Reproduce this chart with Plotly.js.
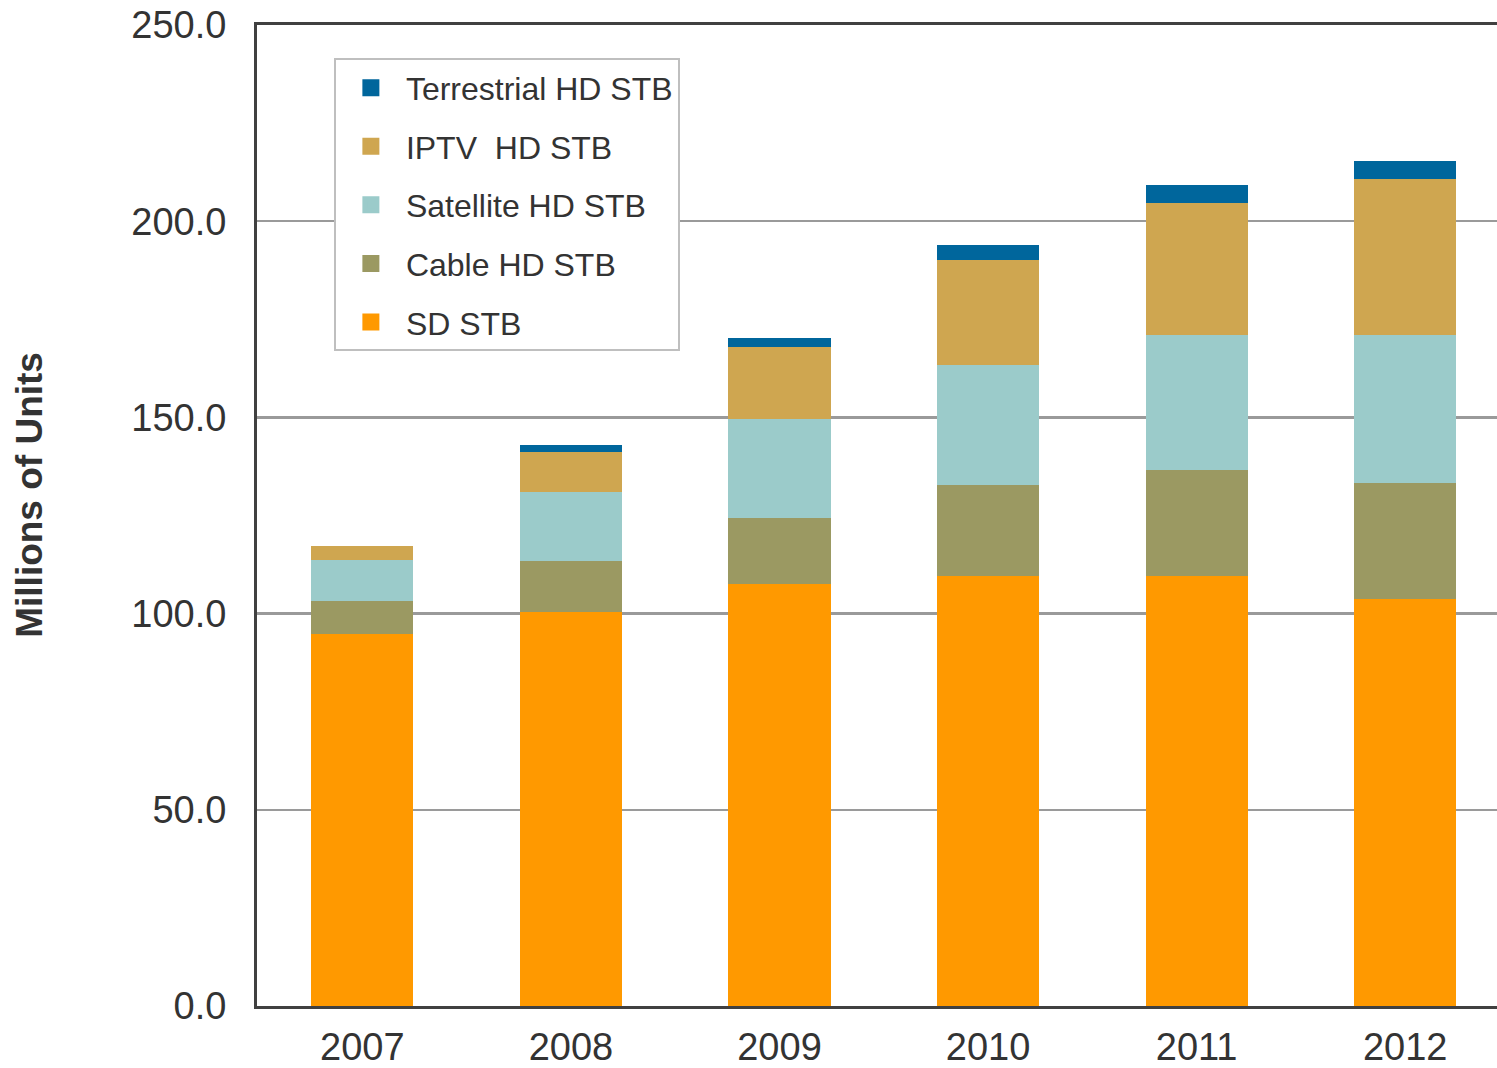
<!DOCTYPE html>
<html>
<head>
<meta charset="utf-8">
<script src="https://cdn.plot.ly/plotly-3.0.1.min.js"></script>
<style>
html,body{margin:0;padding:0;background:#fff;}
#chart{width:1497px;height:1068px;}
</style>
</head>
<body>
<div id="chart"></div>
<script>
// Data (millions of units)
var years = ['2007', '2008', '2009', '2010', '2011', '2012'];
var sdSTB = [94.7, 100.5, 107.5, 109.7, 109.7, 103.6];
var cableHD = [8.4, 13.0, 16.8, 23.0, 26.8, 29.8];
var satelliteHD = [10.5, 17.6, 25.2, 30.6, 34.4, 37.5];
var iptvHD = [3.7, 10.0, 18.4, 26.8, 33.7, 39.8];
var terrestrialHD = [0.0, 1.8, 2.3, 3.8, 4.6, 4.6];
var seriesNames = ['SD STB', 'Cable HD STB', 'Satellite HD STB', 'IPTV  HD STB', 'Terrestrial HD STB'];
var seriesColors = ['#FF9900', '#9B9962', '#9BCBCA', '#CFA650', '#00669C'];
var yTicks = [0, 50, 100, 150, 200, 250];

var seriesValues = [sdSTB, cableHD, satelliteHD, iptvHD, terrestrialHD];
var traces = seriesValues.map(function(vals, i) {
  return {
    type: 'bar',
    name: seriesNames[i],
    x: years,
    y: vals,
    width: 0.49,
    marker: {color: seriesColors[i], line: {width: 0}},
    legendgroup: 'g' + i,
    showlegend: false,
    hoverinfo: 'x+y+name'
  };
});
// legend-only entries (no data drawn) so the legend swatches can be larger
var legendTraces = seriesNames.map(function(nm, i) {
  return {
    type: 'bar',
    name: nm,
    x: [years[0]],
    y: [null],
    marker: {color: seriesColors[i], line: {width: 5, color: seriesColors[i]}},
    legendgroup: 'g' + i,
    legendrank: 10 - i,
    showlegend: true,
    hoverinfo: 'skip'
  };
});

var font = 'Liberation Sans, Arial, sans-serif';
var layout = {
  width: 1497,
  height: 1068,
  barmode: 'stack',
  paper_bgcolor: '#ffffff',
  plot_bgcolor: '#ffffff',
  margin: {l: 257, r: 0, t: 25, b: 62, pad: 0},
  font: {family: font, color: '#333333', size: 38},
  showlegend: true,
  legend: {
    x: 0.062, y: 0.966, xanchor: 'left', yanchor: 'top',
    traceorder: 'grouped',
    tracegroupgap: 14,
    bgcolor: '#ffffff',
    bordercolor: '#BFBFBF',
    borderwidth: 2,
    font: {family: font, size: 32, color: '#333333'},
    itemwidth: 60
  },
  xaxis: {
    type: 'category',
    range: [-0.505, 5.44],
    showgrid: false,
    showline: true,
    mirror: true,
    linecolor: '#404040',
    linewidth: 3,
    ticks: '',
    ticklabelstandoff: 5,
    tickfont: {family: font, size: 38, color: '#333333'},
    fixedrange: true
  },
  yaxis: {
    range: [0, 250],
    tickvals: yTicks,
    tickformat: '.1f',
    showgrid: true,
    gridcolor: '#9A9A9A',
    gridwidth: 2.5,
    zeroline: false,
    showline: true,
    linecolor: '#404040',
    linewidth: 3,
    ticks: '',
    ticklabelstandoff: 20,
    tickfont: {family: font, size: 38, color: '#333333'},
    title: {
      text: '<b>&nbsp;&nbsp;&nbsp;&nbsp;Millions of Units</b>',
      font: {family: font, size: 37, color: '#333333'},
      standoff: 78
    },
    automargin: false,
    fixedrange: true
  }
};

Plotly.newPlot('chart', traces.concat(legendTraces), layout, {displayModeBar: false, staticPlot: true});
</script>
</body>
</html>
